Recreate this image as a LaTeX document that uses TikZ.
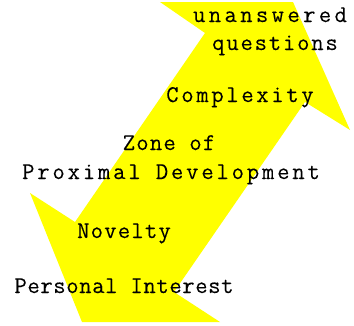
\documentclass[tikz,border=0pt]{standalone}
\usepackage{fontspec}
\newfontfamily\lblmono{Latin Modern Mono}
\definecolor{arrowyellow}{RGB}{255,255,0}
\newcommand{\lblfont}[1]{\lblmono\fontsize{24}{27}\selectfont\addfontfeatures{LetterSpace=#1,FakeBold=0.12}}
\begin{document}
\begin{tikzpicture}[x=1pt,y=1pt,
  lbl/.style={anchor=base, inner sep=0pt, text=black}]
\useasboundingbox (0,0) rectangle (354,325);
% double-headed arrow
\coordinate (A) at (160,323);
\coordinate (B) at (293,323);
\coordinate (C) at (350,195);
\coordinate (D) at (305,223);
\coordinate (E) at (174,33);
\coordinate (F) at (220,3);
\coordinate (G) at (82,3);
\coordinate (H) at (30,132);
\coordinate (I) at (75,103);
\coordinate (J) at (205,292);
\fill[arrowyellow] (A) -- (B) -- (C) -- (D) -- (E) -- (F) -- (G) -- (H) -- (I) -- (J) -- cycle;
% labels
\node[lbl, font=\lblfont{14}] (unans) at (270,303) {unanswered};
\node[lbl, font=\lblfont{7.5}] (quest) at (275,275) {questions};
\node[lbl, font=\lblfont{11}] (compl) at (240,223) {Complexity};
\node[lbl, font=\lblfont{5}] (zone) at (169,175) {Zone of};
\node[lbl, font=\lblfont{11.7}] (zpd) at (171,146) {Proximal Development};
\node[lbl, font=\lblfont{5}] (novel) at (124,87) {Novelty};
\node[lbl, font=\lblfont{2.5}] (pers) at (124,32) {Personal Interest};
\end{tikzpicture}
\end{document}
